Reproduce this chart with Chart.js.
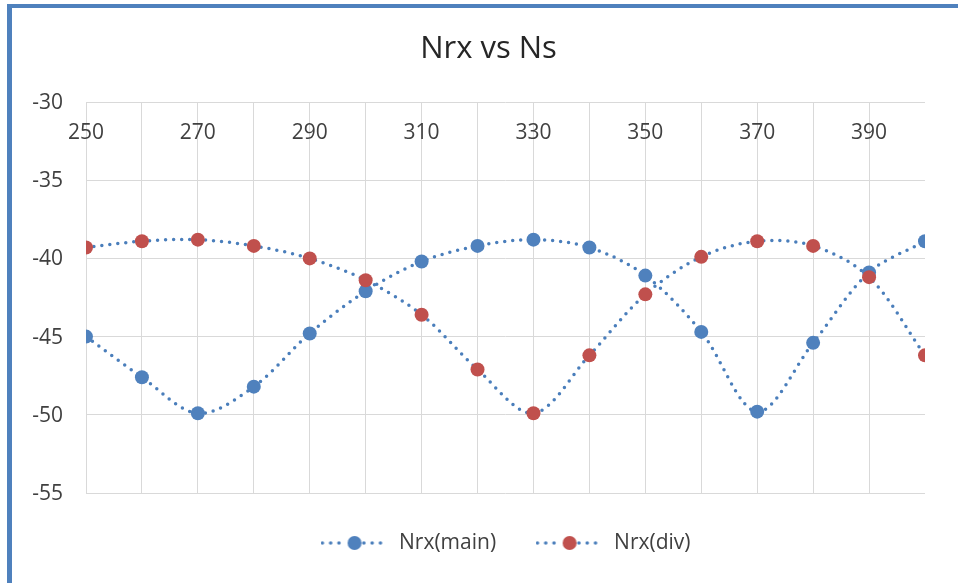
<!DOCTYPE html>
<html>
<head>
<meta charset="utf-8">
<script src="https://cdn.jsdelivr.net/npm/chart.js@4"></script>
<style>
html,body{margin:0;padding:0;background:#fff;}
body{width:958px;height:583px;overflow:hidden;position:relative;}
#frame{position:absolute;left:7px;top:4px;right:-20px;bottom:-20px;border-top:4px solid #4F81BD;border-left:5px solid #4F81BD;}
#chart{position:absolute;left:0;top:0;}
</style>
</head>
<body>
<div id="frame"></div>
<canvas id="chart" width="958" height="583"></canvas>
<script>
// Ns values (x) and the two Nrx series
const ns = [250,260,270,280,290,300,310,320,330,340,350,360,370,380,390,400];
const nrxMain = [-45.0,-47.6,-49.9,-48.2,-44.8,-42.1,-40.2,-39.2,-38.8,-39.3,-41.1,-44.7,-49.8,-45.4,-40.9,-38.9];
const nrxDiv  = [-39.3,-38.9,-38.8,-39.2,-40.0,-41.4,-43.6,-47.1,-49.9,-46.2,-42.3,-39.9,-38.9,-39.2,-41.2,-46.2];
const xTickLabels = [250,270,290,310,330,350,370,390];
const seriesNames = ['Nrx(main)','Nrx(div)'];

const LINE = '#4A7EBB';
const BLUE = '#4F81BD';
const RED = '#C0504D';
const FONT = '"Open Sans", "Noto Sans", sans-serif';
const TXT = '#404040';

// legend icon: dotted line with the marker in the middle
function legendIcon(col){
  const c = document.createElement('canvas');
  c.width = 68; c.height = 16;
  const g = c.getContext('2d');
  g.fillStyle = LINE;
  for(let x=1.8; x<68; x+=8.3){
    if(Math.abs(x-34) < 8) continue;
    g.beginPath(); g.arc(x, 8, 1.8, 0, Math.PI*2); g.fill();
  }
  g.fillStyle = col;
  g.beginPath(); g.arc(34, 8, 7, 0, Math.PI*2); g.fill();
  return c;
}
const icons = [legendIcon(BLUE), legendIcon(RED)];

// axis labels drawn from the scales: x labels sit just under the top edge like the excel axis
const axisLabels = {
  id:'axisLabels',
  beforeDatasetsDraw(chart){
    const {ctx, chartArea, scales:{x, y}} = chart;
    ctx.save();
    ctx.font = '21px ' + FONT;
    ctx.fillStyle = TXT;
    ctx.textAlign = 'center';
    ctx.textBaseline = 'middle';
    xTickLabels.forEach(v => ctx.fillText(String(v), x.getPixelForValue(v), chartArea.top + 31));
    ctx.textAlign = 'right';
    y.ticks.forEach(t => ctx.fillText(String(t.value), chartArea.left - 23, y.getPixelForValue(t.value) + 1));
    ctx.restore();
  }
};

function ds(label, vals, col, order){
  return {
    label, order,
    data: ns.map((x,i)=>({x, y: vals[i]})),
    borderColor: LINE, borderWidth: 3.5, borderDash: [0, 8], borderCapStyle: 'round',
    tension: 0.33, fill: false,
    pointRadius: 7, pointHoverRadius: 7,
    pointBackgroundColor: col, pointBorderColor: col, pointBorderWidth: 0
  };
}

function draw(){
  new Chart(document.getElementById('chart'), {
    type: 'line',
    data: { datasets: [ ds(seriesNames[0], nrxMain, BLUE, 1), ds(seriesNames[1], nrxDiv, RED, 0) ] },
    options: {
      responsive: false, animation: false, devicePixelRatio: 1,
      layout: { padding: { left: 52, right: 33, top: 0, bottom: 19.5 } },
      scales: {
        x: {
          type: 'linear', position: 'top', min: 250, max: 400,
          ticks: { stepSize: 10, display: false },
          grid: { color: c => (c.tick && c.tick.value === 400) ? 'rgba(0,0,0,0)' : '#D9D9D9', drawTicks: false },
          border: { display: false },
          afterFit: s => { s.height = 0; }
        },
        y: {
          min: -55, max: -30,
          ticks: { stepSize: 5, display: false },
          grid: { color: '#D9D9D9', drawTicks: false },
          border: { display: false },
          afterFit: s => { s.width = 34; }
        }
      },
      plugins: {
        tooltip: { enabled: false },
        title: {
          display: true, text: 'Nrx vs Ns', color: '#262626',
          font: { family: FONT, size: 31, weight: 'normal' },
          padding: { top: 30.4, bottom: 34.4 }
        },
        legend: {
          position: 'bottom', fullSize: false,
          labels: {
            usePointStyle: true, pointStyleWidth: 68, padding: 39.5,
            color: TXT, font: { family: FONT, size: 21 },
            generateLabels: chart => chart.data.datasets.map((d,i)=>({
              text: d.label, pointStyle: icons[i], fillStyle: d.pointBackgroundColor,
              strokeStyle: d.pointBackgroundColor, lineWidth: 0, hidden: false, datasetIndex: i, fontColor: TXT
            }))
          }
        }
      }
    },
    plugins: [axisLabels]
  });
}

if(document.fonts && document.fonts.load){
  document.fonts.load('21px "Open Sans"').then(draw, draw);
} else draw();
</script>
</body>
</html>
